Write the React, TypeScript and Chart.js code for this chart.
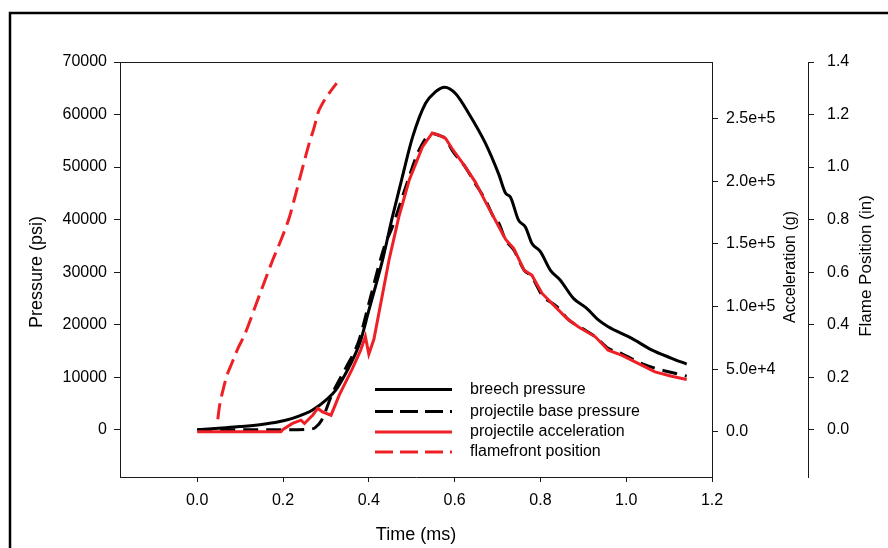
import React, { useEffect, useRef } from 'react';
import { Chart, registerables } from 'chart.js';

Chart.register(...registerables);

// ---- data ----
const breechTime = [0, 0.05, 0.1, 0.15, 0.19, 0.22, 0.25, 0.269, 0.3, 0.323, 0.346, 0.369, 0.381, 0.4, 0.432, 0.455, 0.478, 0.502, 0.532, 0.555, 0.577, 0.602, 0.633, 0.672, 0.703, 0.719, 0.73, 0.749, 0.765, 0.78, 0.8, 0.823, 0.846, 0.877, 0.908, 0.935, 0.958, 1.013, 1.059, 1.106, 1.141];
const breechPsi = [0, 300, 600, 1000, 1500, 2100, 3000, 3750, 5650, 7550, 10700, 14500, 17000, 22700, 32300, 40500, 48100, 55700, 62100, 64300, 65200, 64000, 60200, 54500, 48600, 45000, 44300, 39900, 38600, 35500, 33900, 30400, 28500, 25000, 23100, 20900, 19600, 17400, 15200, 13600, 12500];

const baseTime = [0, 0.1, 0.2, 0.26, 0.275, 0.29, 0.315, 0.331, 0.346, 0.377, 0.4, 0.436, 0.455, 0.486, 0.517, 0.548, 0.565, 0.579, 0.594, 0.625, 0.648, 0.672, 0.695, 0.703, 0.719, 0.738, 0.762, 0.78, 0.804, 0.839, 0.866, 0.897, 0.928, 0.958, 0.989, 1.028, 1.067, 1.106, 1.141];
const basePsi = [0, 0, 0, 100, 400, 1800, 6900, 9450, 11700, 17000, 24000, 34800, 38600, 46200, 53200, 56400, 56000, 55400, 53200, 50000, 46900, 43700, 39900, 39300, 36100, 34200, 30400, 29100, 25600, 23400, 20900, 19300, 17700, 15500, 14500, 12900, 11700, 10900, 10200];

const accelTime = [0, 0.1, 0.195, 0.2, 0.222, 0.242, 0.25, 0.269, 0.281, 0.292, 0.312, 0.331, 0.362, 0.381, 0.392, 0.4, 0.412, 0.447, 0.47, 0.494, 0.525, 0.548, 0.565, 0.579, 0.594, 0.625, 0.648, 0.672, 0.695, 0.719, 0.738, 0.762, 0.78, 0.804, 0.835, 0.862, 0.889, 0.928, 0.958, 0.989, 1.036, 1.067, 1.106, 1.141];
const accelG = [0, 0, 0, 2000, 6700, 9300, 6700, 13300, 18700, 16000, 13300, 29300, 50600, 65200, 76000, 62000, 74000, 136900, 171500, 200700, 227300, 238400, 236500, 234000, 226000, 211300, 199400, 183400, 168800, 153500, 146200, 128900, 125000, 110400, 99700, 90400, 83700, 75800, 65200, 61200, 53200, 47800, 44400, 41800];

const flameTime = [0.048, 0.052, 0.06, 0.07, 0.08, 0.095, 0.11, 0.14, 0.176, 0.192, 0.215, 0.23, 0.246, 0.261, 0.273, 0.281, 0.292, 0.304, 0.325];
const flameIn = [0.04, 0.09, 0.15, 0.21, 0.25, 0.31, 0.36, 0.49, 0.646, 0.709, 0.81, 0.9, 1.0, 1.09, 1.153, 1.204, 1.242, 1.273, 1.32];

const seriesLabels = ['breech pressure', 'projectile base pressure', 'projectile acceleration', 'flamefront position'];

const xTicks = [0, 0.2, 0.4, 0.6, 0.8, 1.0, 1.2];
const pressureTicks = [0, 10000, 20000, 30000, 40000, 50000, 60000, 70000];
const accelTicks = [0, 50000, 100000, 150000, 200000, 250000];
const flameTicks = [0, 0.2, 0.4, 0.6, 0.8, 1.0, 1.2, 1.4];

const RED = '#ee2026';
const AXIS = '#1a1a1a';
const FONT = '"Liberation Sans", Arial, Helvetica, sans-serif';

const pts = (t: number[], v: number[]) => t.map((x, i) => ({ x, y: v[i] }));

const overlay = {
  id: 'overlay',
  afterDraw(chart: any) {
    const ctx = chart.ctx as CanvasRenderingContext2D;
    const a = chart.chartArea;
    ctx.save();
    // outer frame
    ctx.strokeStyle = '#000';
    ctx.lineWidth = 2.5;
    ctx.strokeRect(10, 13, 900, 600);
    // top frame line of plot
    ctx.lineWidth = 1;
    ctx.strokeStyle = AXIS;
    ctx.beginPath();
    ctx.moveTo(a.left, Math.round(a.top) + 0.5);
    ctx.lineTo(a.right, Math.round(a.top) + 0.5);
    ctx.stroke();

    // axis titles
    ctx.fillStyle = '#000';
    ctx.textAlign = 'center';
    ctx.textBaseline = 'middle';
    const rot = (txt: string, x: number, y: number, size: number) => {
      ctx.save();
      ctx.translate(x, y);
      ctx.rotate(-Math.PI / 2);
      ctx.font = `${size}px ${FONT}`;
      ctx.fillText(txt, 0, 0);
      ctx.restore();
    };
    rot('Pressure (psi)', 37, 272, 18);
    rot('Acceleration (g)', 791, 267, 16);
    rot('Flame Position (in)', 866, 266, 17);
    ctx.font = `18px ${FONT}`;
    ctx.fillText('Time (ms)', 416, 535);

    // legend
    const rows = [389.5, 411.5, 432, 452];
    ctx.font = `16px ${FONT}`;
    ctx.textAlign = 'left';
    chart.data.datasets.forEach((ds: any, i: number) => {
      ctx.save();
      ctx.strokeStyle = ds.borderColor;
      ctx.lineWidth = 3;
      ctx.setLineDash(ds.borderDash && ds.borderDash.length ? [18, 7] : []);
      ctx.beginPath();
      ctx.moveTo(375, rows[i]);
      ctx.lineTo(452, rows[i]);
      ctx.stroke();
      ctx.restore();
      ctx.fillStyle = '#000';
      ctx.fillText(ds.label, 470, rows[i]);
    });
    ctx.restore();
  },
};

const tickFont = { family: FONT, size: 16 };

export default function App() {
  const ref = useRef<HTMLCanvasElement>(null);
  useEffect(() => {
    if (!ref.current) return;
    const chart = new Chart(ref.current, {
      type: 'line',
      data: {
        datasets: [
          { label: seriesLabels[0], data: pts(breechTime, breechPsi), borderColor: '#000', borderWidth: 3, pointRadius: 0, yAxisID: 'y', order: 3, borderDash: [], cubicInterpolationMode: 'monotone' },
          { label: seriesLabels[1], data: pts(baseTime, basePsi), borderColor: '#000', borderWidth: 3, pointRadius: 0, yAxisID: 'y', order: 2, borderDash: [15, 8], cubicInterpolationMode: 'monotone' },
          { label: seriesLabels[2], data: pts(accelTime, accelG), borderColor: RED, borderWidth: 3, pointRadius: 0, yAxisID: 'yAcc', order: 1, borderDash: [] },
          { label: seriesLabels[3], data: pts(flameTime, flameIn), borderColor: RED, borderWidth: 3, pointRadius: 0, yAxisID: 'yFlame', order: 0, borderDash: [16, 7], cubicInterpolationMode: 'monotone' },
        ],
      },
      options: {
        responsive: false,
        animation: false,
        devicePixelRatio: 1,
        layout: { padding: { top: 62, left: 0, right: 0, bottom: 0 } },
        plugins: { legend: { display: false }, tooltip: { enabled: false } },
        scales: {
          x: {
            type: 'linear',
            min: -0.18,
            max: 1.2,
            afterBuildTicks: (s: any) => { s.ticks = xTicks.map((v) => ({ value: v })); },
            afterFit: (s: any) => { s.height = 71; },
            ticks: { autoSkip: false, maxRotation: 0, padding: 9, color: '#000', font: tickFont, callback: (v: any) => Number(v).toFixed(1) },
            grid: { drawOnChartArea: false, tickLength: 5, color: AXIS },
            border: { color: AXIS, width: 1 },
          },
          y: {
            type: 'linear',
            position: 'left',
            min: -9000,
            max: 70000,
            afterBuildTicks: (s: any) => { s.ticks = pressureTicks.map((v) => ({ value: v })); },
            afterFit: (s: any) => { s.width = 120; },
            ticks: { autoSkip: false, padding: 7, color: '#000', font: tickFont, callback: (v: any) => String(v) },
            grid: { drawOnChartArea: false, tickLength: 6, color: AXIS },
            border: { color: AXIS, width: 1 },
          },
          yAcc: {
            type: 'linear',
            position: 'right',
            min: -36000,
            max: 295000,
            afterBuildTicks: (s: any) => { s.ticks = accelTicks.map((v) => ({ value: v })); },
            afterFit: (s: any) => { s.width = 96; },
            ticks: { autoSkip: false, padding: 8, color: '#000', font: tickFont, callback: (v: any) => (Number(v) === 0 ? '0.0' : Number(v).toExponential(1)) },
            grid: { drawOnChartArea: false, tickLength: 6, color: AXIS },
            border: { color: AXIS, width: 1 },
          },
          yFlame: {
            type: 'linear',
            position: 'right',
            min: -0.18,
            max: 1.4,
            afterBuildTicks: (s: any) => { s.ticks = flameTicks.map((v) => ({ value: v })); },
            afterFit: (s: any) => { s.width = 80; },
            ticks: { autoSkip: false, padding: 13, color: '#000', font: tickFont, callback: (v: any) => Number(v).toFixed(1) },
            grid: { drawOnChartArea: false, tickLength: 6, color: AXIS },
            border: { color: AXIS, width: 1 },
          },
        },
      },
      plugins: [overlay],
    } as any);
    return () => chart.destroy();
  }, []);

  return (
    <div style={{ position: 'fixed', left: 0, top: 0, width: 888, height: 548, background: '#fff' }}>
      <canvas ref={ref} width={888} height={548} style={{ display: 'block', width: 888, height: 548 }} />
    </div>
  );
}
